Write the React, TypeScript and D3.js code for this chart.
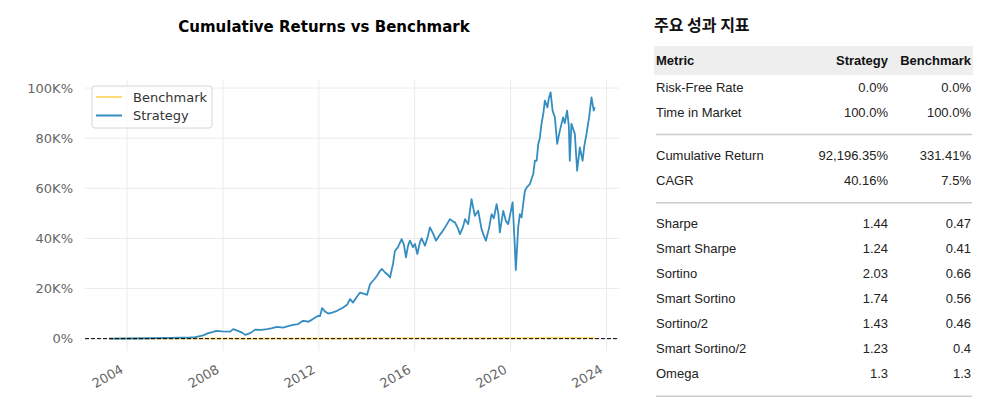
import React, { useEffect, useRef } from 'react';
import * as d3 from 'd3';

// Strategy cumulative return, in thousands of percent (K%)
const strategyDates = [
  '2003-04-05', '2004-02-20', '2004-12-20', '2005-10-20', '2006-08-20', '2006-11-05',
  '2007-03-07', '2007-05-22', '2007-08-07', '2007-09-20', '2007-12-20', '2008-04-20',
  '2008-06-05', '2008-08-05', '2008-10-20', '2008-12-05', '2009-02-20', '2009-05-05',
  '2009-08-05', '2009-11-05', '2010-01-20', '2010-04-05', '2010-07-05', '2010-09-20',
  '2010-12-05', '2011-02-20', '2011-05-05', '2011-06-20', '2011-07-20', '2011-09-20',
  '2011-12-20', '2012-01-20', '2012-02-20', '2012-04-05', '2012-05-20', '2012-07-20',
  '2012-10-05', '2013-01-05', '2013-03-05', '2013-04-20', '2013-06-05', '2013-08-05',
  '2013-09-20', '2013-12-05', '2014-01-05', '2014-02-20', '2014-05-05', '2014-06-05',
  '2014-07-20', '2014-08-20', '2014-10-05', '2014-11-20', '2014-12-20', '2015-02-05',
  '2015-03-05', '2015-04-20', '2015-06-15', '2015-07-20', '2015-08-20', '2015-09-20',
  '2015-10-20', '2015-12-05', '2016-01-05', '2016-02-10', '2016-03-20', '2016-04-15',
  '2016-06-05', '2016-07-20', '2016-08-20', '2016-10-10', '2016-11-20', '2017-01-05',
  '2017-02-15', '2017-04-20', '2017-06-20', '2017-08-05', '2017-09-05', '2017-10-20',
  '2017-11-20', '2018-01-05', '2018-02-05', '2018-03-25', '2018-05-15', '2018-06-12',
  '2018-07-05', '2018-08-25', '2018-10-15', '2018-11-20', '2018-12-20', '2019-02-05',
  '2019-03-17', '2019-04-20', '2019-06-01', '2019-06-28', '2019-07-20', '2019-09-10',
  '2019-10-20', '2019-11-25', '2019-12-28', '2020-01-31', '2020-02-28', '2020-03-20',
  '2020-04-25', '2020-05-20', '2020-06-15', '2020-07-10', '2020-08-05', '2020-09-01',
  '2020-10-20', '2020-12-10', '2021-01-05', '2021-01-31', '2021-02-25', '2021-03-20',
  '2021-04-15', '2021-05-14', '2021-06-05', '2021-07-15', '2021-08-05', '2021-09-01',
  '2021-10-01', '2021-11-05', '2021-12-10', '2022-01-20', '2022-03-10', '2022-04-05',
  '2022-05-10', '2022-06-05', '2022-06-20', '2022-07-15', '2022-09-05', '2022-10-10',
  '2022-11-20', '2023-01-01', '2023-01-28', '2023-03-02', '2023-04-10', '2023-05-17',
  '2023-06-20', '2023-07-05',
];
const strategyK = [
  0, 0.05, 0.15, 0.3, 0.45, 0.6,
  1.3, 2.2, 2.7, 3.1, 2.9, 2.8,
  3.8, 3.2, 2.4, 1.5, 2.2, 3.6,
  3.5, 3.8, 4.2, 4.7, 4.4, 5.0,
  5.5, 5.8, 7.1, 7.0, 6.7, 7.6,
  9.1, 9.0, 12.2, 10.8, 10.0, 10.4,
  11.1, 12.4, 13.5, 15.8, 14.4, 16.8,
  18.4, 17.8, 17.5, 21.8, 24.0, 25.1,
  27.0, 27.8, 26.4, 25.4, 24.4, 30.0,
  35.0, 36.5, 39.7, 37.5, 32.4, 37.0,
  39.1, 36.5, 37.8, 33.8, 38.5, 40.0,
  37.1, 41.0, 44.4, 41.7, 39.1, 41.0,
  42.4, 45.0, 47.7, 46.8, 46.4, 44.0,
  41.7, 44.5, 47.7, 45.7, 55.7, 52.0,
  49.0, 51.0, 43.7, 41.0, 39.1, 44.0,
  49.7, 48.0, 53.7, 50.0, 42.4, 51.0,
  47.0, 45.7, 50.0, 54.4, 40.0, 27.4,
  44.4, 49.7, 48.4, 53.7, 59.0, 60.4,
  61.7, 65.7, 71.0, 71.0, 77.7, 80.0,
  85.7, 90.0, 95.0, 92.3, 96.0, 98.3,
  91.0, 88.3, 77.7, 83.0, 88.3, 86.0,
  91.0, 85.0, 71.0, 85.7, 81.7, 67.0,
  76.3, 71.0, 77.0, 81.7, 88.3, 96.3,
  91.0, 92.3,
];

// Benchmark cumulative return, in percent
const benchmarkDates = [
  '2003-04-05', '2004-01-05', '2005-01-05', '2006-01-05', '2007-01-05', '2007-10-05',
  '2008-06-05', '2009-03-05', '2010-01-05', '2011-01-05', '2012-01-05', '2013-01-05',
  '2014-01-05', '2015-01-05', '2016-01-05', '2017-01-05', '2018-01-05', '2019-01-05',
  '2020-01-05', '2020-03-20', '2021-01-05', '2022-01-05', '2022-10-10', '2023-07-05',
];
const benchmarkPct = [
  0, 25, 30, 35, 50, 65,
  40, -15, 30, 50, 50, 70,
  110, 130, 125, 150, 200, 180,
  250, 170, 300, 380, 260, 331.41,
];

const yTicks = [0, 20, 40, 60, 80, 100];
const xTickYears = [2004, 2008, 2012, 2016, 2020, 2024];

const tableTitle = '주요 성과 지표';
const tableHeader = ['Metric', 'Strategy', 'Benchmark'];
const metricNames = [
  'Risk-Free Rate', 'Time in Market',
  'Cumulative Return', 'CAGR',
  'Sharpe', 'Smart Sharpe', 'Sortino', 'Smart Sortino', 'Sortino/2', 'Smart Sortino/2', 'Omega',
];
const strategyValues = ['0.0%', '100.0%', '92,196.35%', '40.16%', '1.44', '1.24', '2.03', '1.74', '1.43', '1.23', '1.3'];
const benchmarkValues = ['0.0%', '100.0%', '331.41%', '7.5%', '0.47', '0.41', '0.66', '0.56', '0.46', '0.4', '1.3'];
const sectionSizes = [2, 2, 7];

const App = () => {
  const svgRef = useRef<SVGSVGElement>(null);

  useEffect(() => {
    const width = 981;
    const height = 398;
    const svg = d3.select(svgRef.current).attr('width', width).attr('height', height);
    svg.selectAll('*').remove();

    const parse = d3.timeParse('%Y-%m-%d');
    const strategy = strategyDates.map((d, i) => ({ date: parse(d) as Date, v: strategyK[i] }));
    const benchmark = benchmarkDates.map((d, i) => ({ date: parse(d) as Date, v: benchmarkPct[i] / 1000 }));

    // plot area
    const left = 85;
    const right = 619;
    const top = 80;
    const bottom = 351;

    // matplotlib-like 5% margins
    const [t0, t1] = d3.extent(strategy, (d) => d.date) as [Date, Date];
    const span = +t1 - +t0;
    const x = d3
      .scaleTime()
      .domain([new Date(+t0 - span * 0.05), new Date(+t1 + span * 0.05)])
      .range([left, right]);
    const all = strategy.map((d) => d.v).concat(benchmark.map((d) => d.v));
    const vMin = Math.min(0, d3.min(all) as number);
    const vMax = d3.max(all) as number;
    const vPad = (vMax - vMin) * 0.05;
    const y = d3.scaleLinear().domain([vMin - vPad, vMax + vPad]).range([bottom, top]);

    const font = 'DejaVu Sans, sans-serif';

    // title
    svg
      .append('text')
      .attr('x', 324)
      .attr('y', 32)
      .attr('text-anchor', 'middle')
      .attr('font-family', font)
      .attr('font-weight', 'bold')
      .attr('font-size', '15px')
      .attr('fill', '#000')
      .text('Cumulative Returns vs Benchmark');

    // grid
    const yearDates = xTickYears.map((yr) => new Date(yr, 0, 1));
    svg
      .append('g')
      .selectAll('line')
      .data(yearDates)
      .join('line')
      .attr('x1', (d) => x(d))
      .attr('x2', (d) => x(d))
      .attr('y1', top)
      .attr('y2', bottom)
      .attr('stroke', '#ebebeb')
      .attr('stroke-width', 1);
    svg
      .append('g')
      .selectAll('line')
      .data(yTicks)
      .join('line')
      .attr('x1', left)
      .attr('x2', right)
      .attr('y1', (d) => y(d))
      .attr('y2', (d) => y(d))
      .attr('stroke', '#ebebeb')
      .attr('stroke-width', 1);

    // y tick labels
    svg
      .append('g')
      .selectAll('text')
      .data(yTicks)
      .join('text')
      .attr('x', left - 12)
      .attr('y', (d) => y(d))
      .attr('dy', '0.35em')
      .attr('text-anchor', 'end')
      .attr('font-family', font)
      .attr('font-size', '13px')
      .attr('fill', '#666')
      .text((d) => (d === 0 ? '0%' : `${d}K%`));

    // x tick labels, rotated
    svg
      .append('g')
      .selectAll('text')
      .data(yearDates)
      .join('text')
      .attr('transform', (d) => `translate(${x(d) - 8},${bottom + 12}) rotate(-30)`)
      .attr('dy', '0.8em')
      .attr('text-anchor', 'end')
      .attr('font-family', font)
      .attr('font-size', '13px')
      .attr('fill', '#666')
      .text((d) => d.getFullYear());

    // lines
    const line = d3
      .line<{ date: Date; v: number }>()
      .x((d) => x(d.date))
      .y((d) => y(d.v));

    svg
      .append('path')
      .datum(benchmark)
      .attr('d', line)
      .attr('fill', 'none')
      .attr('stroke', '#fedd78')
      .attr('stroke-width', 2);

    svg
      .append('path')
      .datum(strategy)
      .attr('d', line)
      .attr('fill', 'none')
      .attr('stroke', '#348dc1')
      .attr('stroke-width', 1.8)
      .attr('stroke-linejoin', 'round');

    // zero line
    svg
      .append('line')
      .attr('x1', left)
      .attr('x2', right)
      .attr('y1', y(0))
      .attr('y2', y(0))
      .attr('stroke', '#000')
      .attr('stroke-width', 1)
      .attr('stroke-dasharray', '4,2');

    // legend
    const legend = svg.append('g');
    legend
      .append('rect')
      .attr('x', 92)
      .attr('y', 86)
      .attr('width', 120)
      .attr('height', 42)
      .attr('rx', 3)
      .attr('fill', '#fff')
      .attr('fill-opacity', 0.8)
      .attr('stroke', '#d6d6d6');
    const legendItems = [
      { label: 'Benchmark', color: '#fedd78' },
      { label: 'Strategy', color: '#348dc1' },
    ];
    legendItems.forEach((item, i) => {
      const ly = 97 + i * 18.5;
      legend
        .append('line')
        .attr('x1', 96)
        .attr('x2', 122)
        .attr('y1', ly)
        .attr('y2', ly)
        .attr('stroke', item.color)
        .attr('stroke-width', 2);
      legend
        .append('text')
        .attr('x', 133)
        .attr('y', ly)
        .attr('dy', '0.35em')
        .attr('font-family', font)
        .attr('font-size', '13px')
        .attr('fill', '#333')
        .text(item.label);
    });

    // metrics table
    const tFont = 'Liberation Sans, Arial, sans-serif';
    const colMetric = 656;
    const colStrategy = 888;
    const colBenchmark = 971;

    svg
      .append('text')
      .attr('x', 654)
      .attr('y', 31)
      .attr('font-family', 'Noto Sans CJK KR, sans-serif')
      .attr('font-weight', 'bold')
      .attr('font-size', '16px')
      .attr('fill', '#111')
      .text(tableTitle);

    svg
      .append('rect')
      .attr('x', 654)
      .attr('y', 46)
      .attr('width', 319)
      .attr('height', 29)
      .attr('fill', '#eeeeee');

    const headerX = [colMetric, colStrategy, colBenchmark];
    tableHeader.forEach((h, i) => {
      svg
        .append('text')
        .attr('x', headerX[i])
        .attr('y', 65)
        .attr('text-anchor', i === 0 ? 'start' : 'end')
        .attr('font-family', tFont)
        .attr('font-weight', 'bold')
        .attr('font-size', '13px')
        .attr('fill', '#111')
        .text(h);
    });

    const rowStep = 25.1;
    let rowY = 91.5;
    let idx = 0;
    sectionSizes.forEach((size) => {
      for (let r = 0; r < size; r++) {
        const vals = [metricNames[idx], strategyValues[idx], benchmarkValues[idx]];
        vals.forEach((v, c) => {
          svg
            .append('text')
            .attr('x', headerX[c])
            .attr('y', rowY)
            .attr('text-anchor', c === 0 ? 'start' : 'end')
            .attr('font-family', tFont)
            .attr('font-size', '13px')
            .attr('fill', '#222')
            .text(v);
        });
        idx += 1;
        if (r < size - 1) rowY += rowStep;
      }
      const sepY = rowY + 18;
      svg
        .append('line')
        .attr('x1', 656)
        .attr('x2', 972)
        .attr('y1', sepY)
        .attr('y2', sepY)
        .attr('stroke', '#cccccc')
        .attr('stroke-width', 1.5);
      rowY = sepY + 25;
    });
  }, []);

  return <svg ref={svgRef} style={{ position: 'absolute', left: 0, top: 0 }}></svg>;
};

export default App;
